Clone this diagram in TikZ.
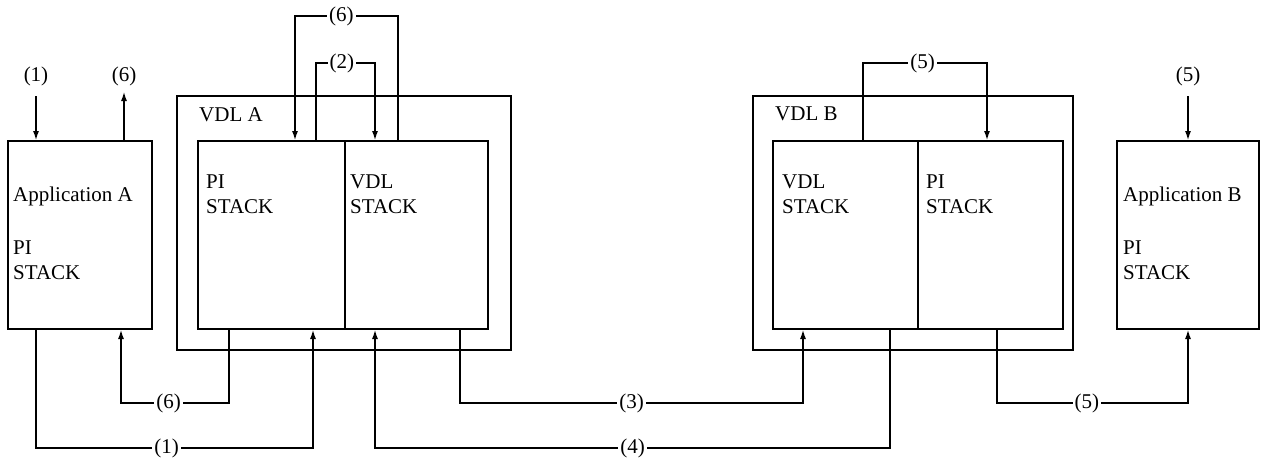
\documentclass[tikz,border=0pt]{standalone}
\usepackage{fontspec}
\setmainfont{Liberation Serif}
\usetikzlibrary{arrows.meta,positioning}

\begin{document}
\begin{tikzpicture}[
  x=1pt,y=-1pt,
  box/.style={draw,line width=2.1pt,inner sep=0pt,outer sep=0pt,minimum height=188pt},
  frame/.style={box,minimum height=254pt},
  txt/.style={anchor=north west,inner sep=0pt,align=left,font=\fontsize{21}{25}\selectfont},
  lab/.style={fill=white,inner sep=2pt,font=\fontsize{21}{25}\selectfont},
  ln/.style={line width=2pt},
  a/.style={ln,-{Latex[length=10pt,width=6pt]}}
]
  \useasboundingbox (0,0) rectangle (1285,459);

  % VDL frames
  \node[frame,minimum width=334pt] (vdlA) at (344,223) {};
  \node[frame,minimum width=320pt] (vdlB) at (913,223) {};
  % stacks
  \node[box,minimum width=144pt] (appA) at (80,235) {};
  \node[box,minimum width=147pt] (piA) at (271.5,235) {};
  \node[box,minimum width=143pt] (vstA) at (416.5,235) {};
  \node[box,minimum width=145pt] (vstB) at (845.5,235) {};
  \node[box,minimum width=145pt] (piB) at (990.5,235) {};
  \node[box,minimum width=142pt] (appB) at (1188,235) {};

  \node[txt] (vdlAtxt) at ([shift={(22,11)}]vdlA.north west) {VDL A};
  \node[txt] (vdlBtxt) at ([shift={(22,11)}]vdlB.north west) {VDL B};
  \node[txt] (appAtxt) at ([shift={(5,46)}]appA.north west) {Application A\\[28pt]PI\\STACK};
  \node[txt] (piAtxt) at ([shift={(8,34)}]piA.north west) {PI\\STACK};
  \node[txt] (vstAtxt) at ([shift={(5,34)}]vstA.north west) {VDL\\STACK};
  \node[txt] (vstBtxt) at ([shift={(9,34)}]vstB.north west) {VDL\\STACK};
  \node[txt] (piBtxt) at ([shift={(8,34)}]piB.north west) {PI\\STACK};
  \node[txt] (appBtxt) at ([shift={(6,46)}]appB.north west) {Application B\\[28pt]PI\\STACK};

  % outside arrows
  \coordinate (inA) at ([xshift=-44pt,yshift=45pt]appA.north);
  \coordinate (outA) at ([xshift=44pt,yshift=50pt]appA.north);
  \coordinate (inB) at ([yshift=45pt]appB.north);
  \node[lab,above=8pt of inA] (inAtxt) {(1)};
  \node[lab,above=3pt of outA] (outAtxt) {(6)};
  \node[lab,above=8pt of inB] (inBtxt) {(5)};
  \draw[a] (inA) -- ([xshift=-44pt]appA.north);
  \draw[a] ([xshift=44pt]appA.north) -- (outA);
  \draw[a] (inB) -- (appB.north);

  % wires above
  \draw[a] ([xshift=-18.5pt]vstA.north) -- ++(0,-125) -| node[lab,pos=0.275]{(6)} ([xshift=23.5pt]piA.north);
  \draw[a] ([xshift=44.5pt]piA.north) -- ++(0,-78) -| node[lab,pos=0.22]{(2)} ([xshift=-41.5pt]vstA.north);
  \draw[a] ([xshift=17.5pt]vstB.north) -- ++(0,-78) -| node[lab,pos=0.24]{(5)} ([xshift=-3.5pt]piB.north);

  % wires below
  \draw[a] ([xshift=-42.5pt]piA.south) -- ++(0,74) -| node[lab,pos=0.28]{(6)} ([xshift=41pt]appA.south);
  \draw[a] ([xshift=-44pt]appA.south) -- ++(0,119) -| node[lab,pos=0.236]{(1)} ([xshift=41.5pt]piA.south);
  \draw[a] ([xshift=43.5pt]vstA.south) -- ++(0,74) -| node[lab,pos=0.25]{(3)} ([xshift=-42.5pt]vstB.south);
  \draw[a] ([xshift=44.5pt]vstB.south) -- ++(0,119) -| node[lab,pos=0.25]{(4)} ([xshift=-41.5pt]vstA.south);
  \draw[a] ([xshift=6.5pt]piB.south) -- ++(0,74) -| node[lab,pos=0.235]{(5)} (appB.south);
\end{tikzpicture}
\end{document}
